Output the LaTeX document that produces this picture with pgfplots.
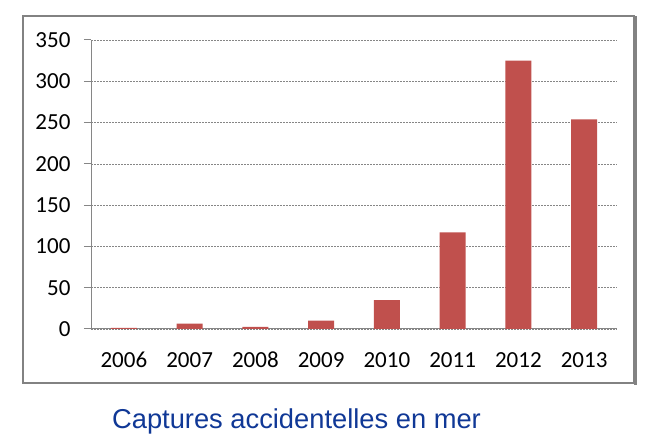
\documentclass[border=0pt]{standalone}
\usepackage{fontspec}
\setmainfont{Carlito}
\newfontfamily\arial{Liberation Sans}
\usepackage{pgfplots}
\pgfplotsset{compat=1.18}
\definecolor{barred}{RGB}{192,80,77}
\definecolor{axgray}{RGB}{134,134,134}
\definecolor{boxgray}{RGB}{130,130,130}
\definecolor{titleblue}{RGB}{16,56,150}
\begin{document}
\begin{tikzpicture}[x=1pt,y=1pt]
\useasboundingbox (0,0) rectangle (647,438);
\draw[boxgray, line width=1.6pt] (23,55) rectangle (634,422);
\fill[boxgray] (633.5,53) rectangle (636.5,422);
\begin{axis}[
  at={(91pt,109pt)}, anchor=south west,
  scale only axis, width=526pt, height=289pt,
  xmin=-0.5, xmax=7.5, ymin=0, ymax=350,
  axis lines=left, axis line style={-, axgray, line width=1pt},
  ybar, bar width=26pt,
  xtick={0,...,7},
  xticklabels={2006,2007,2008,2009,2010,2011,2012,2013},
  major x tick style={draw=none},
  extra x ticks={-0.5,0.5,1.5,2.5,3.5,4.5,5.5,6.5,7.5},
  extra x tick labels={},
  extra x tick style={tick align=outside, major tick length=8pt, tick style={axgray, line width=1pt}},
  ytick={0,50,...,350},
  ytick align=outside, major tick length=7pt,
  tick style={axgray, line width=1pt},
  ymajorgrids, grid style={axgray, dash pattern=on 2pt off 1pt, line width=0.5pt},
  /pgf/number format/assume math mode=true,
  ticklabel style={font=\fontsize{23}{27}\selectfont},
  yticklabel style={xshift=-10pt},
  xticklabel style={yshift=-13pt, text height=15pt, text depth=0pt},
  clip=false,
]
\addplot[fill=barred, draw=none] coordinates {
  (0,1.5) (1,6.5) (2,2.5) (3,10) (4,35) (5,117) (6,325) (7,254)
};
\end{axis}
\node[text=titleblue, font=\arial\fontsize{27.3}{31}\selectfont] at (296.5,17) {Captures accidentelles en mer};
\end{tikzpicture}
\end{document}
